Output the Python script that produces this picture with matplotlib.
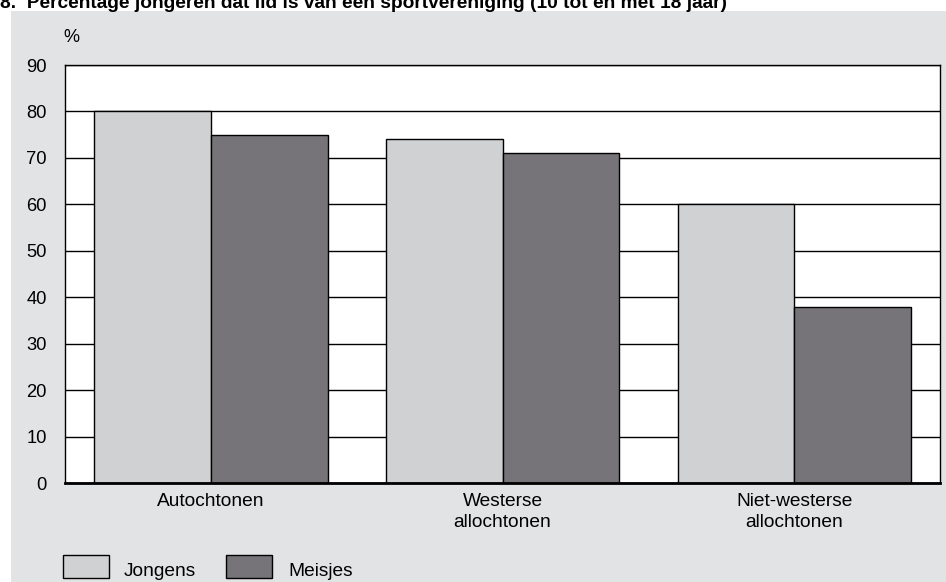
import numpy as np
import matplotlib.pyplot as plt
from matplotlib.patches import Rectangle

plt.rcParams['font.family'] = ['Liberation Sans', 'DejaVu Sans']

categories = ["Autochtonen", "Westerse\nallochtonen", "Niet-westerse\nallochtonen"]
jongens = [80, 74, 60]
meisjes = [75, 71, 38]
yticks = [0, 10, 20, 30, 40, 50, 60, 70, 80, 90]
title = "8.  Percentage jongeren dat lid is van een sportvereniging (10 tot en met 18 jaar)"

c_jong = "#d0d1d3"
c_meis = "#767478"
c_bg = "#e2e3e5"

fig = plt.figure(figsize=(9.46, 5.82), dpi=100)
W, H = 946, 582

# grey panel
fig.patches.append(Rectangle((11 / W, 0), 1 - 11 / W, 1 - 11 / H, transform=fig.transFigure,
                             facecolor=c_bg, edgecolor="none", zorder=-5))
fig.text(0.0, 1 - 8 / H, title, fontsize=13.8, fontweight="bold", va="baseline", ha="left")

ax = fig.add_axes([65 / W, 1 - 483 / H, 875 / W, 418 / H], zorder=2)
x = np.arange(len(categories))
w = 0.4
ax.bar(x - w / 2, jongens, w, color=c_jong, edgecolor="black", linewidth=1, zorder=3)
ax.bar(x + w / 2, meisjes, w, color=c_meis, edgecolor="black", linewidth=1, zorder=3)

ax.set_xlim(-0.5, 2.5)
ax.set_ylim(0, 90)
ax.set_yticks(yticks)
ax.set_xticks(x)
ax.set_xticklabels(categories, fontsize=13.8, linespacing=1.35)
ax.tick_params(axis="y", length=0, labelsize=13.2, pad=13)
ax.tick_params(axis="x", length=0, pad=7)
ax.yaxis.grid(True, color="black", linewidth=1, zorder=1)
ax.set_axisbelow(True)
for s in ["left", "top", "right"]:
    ax.spines[s].set_linewidth(1)
ax.spines["bottom"].set_linewidth(2)
ax.spines["bottom"].set_zorder(4)

fig.text(71 / W, 1 - 37 / H, "%", fontsize=13, ha="center", va="center")

# legend
for x0, col, lab, tx in [(63, c_jong, "Jongens", 124), (226, c_meis, "Meisjes", 288)]:
    fig.patches.append(Rectangle((x0 / W, 1 - 578 / H), 46 / W, 23 / H, transform=fig.transFigure,
                                 facecolor=col, edgecolor="black", linewidth=1))
    fig.text(tx / W, 1 - 572 / H, lab, fontsize=13.8, ha="left", va="center")

fig.savefig("out.png", dpi=100)
